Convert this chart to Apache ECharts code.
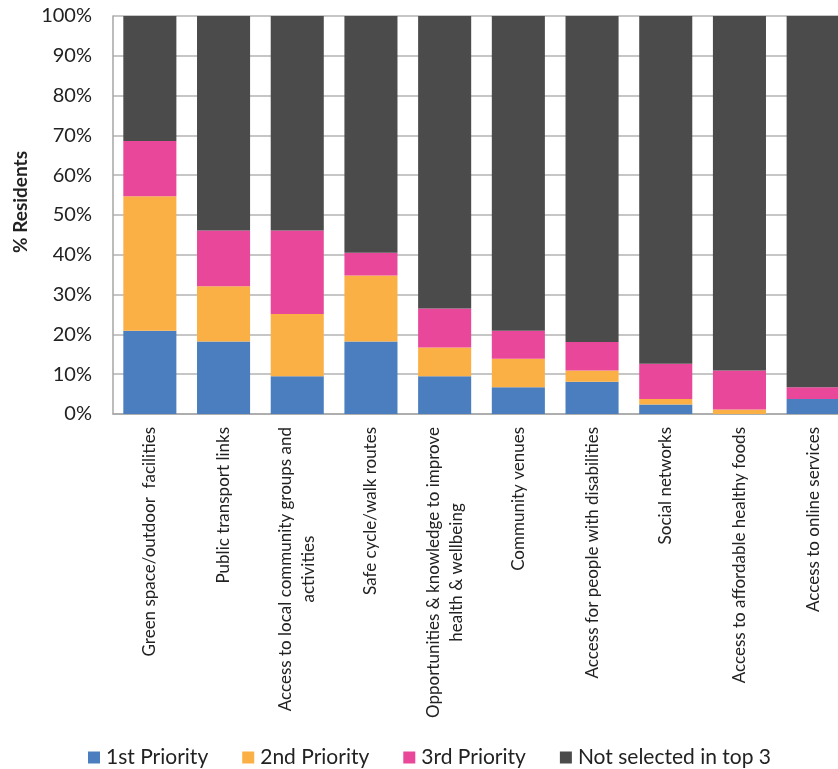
<!DOCTYPE html>
<html>
<head>
<meta charset="utf-8">
<script src="https://cdn.jsdelivr.net/npm/echarts@6/dist/echarts.min.js"></script>
<style>
  html, body { margin: 0; padding: 0; background: #fff; }
  #chart { width: 838px; height: 769px; }
</style>
</head>
<body>
<div id="chart"></div>
<script>
// Categories (long names wrap onto two lines)
const categories = [
  'Green space/outdoor  facilities',
  'Public transport links',
  'Access to local community groups and\nactivities',
  'Safe cycle/walk routes',
  'Opportunities & knowledge to improve\nhealth & wellbeing',
  'Community venues',
  'Access for people with disabilities',
  'Social networks',
  'Access to affordable healthy foods',
  'Access to online services'
];

// Share of residents (%) per priority
const firstPriority  = [20.9, 18.2,  9.5, 18.2,  9.5,  6.7,  8.1,  2.4,  0.0,  3.8];
const secondPriority = [33.8, 13.9, 15.6, 16.6,  7.2,  7.2,  2.8,  1.4,  1.1,  0.0];
const thirdPriority  = [13.9, 14.0, 21.0,  5.7,  9.8,  7.0,  7.2,  8.8,  9.8,  2.9];
const notSelected    = [31.4, 53.9, 53.9, 59.5, 73.5, 79.1, 81.9, 87.4, 89.1, 93.3];

const seriesNames = ['1st Priority', '2nd Priority', '3rd Priority', 'Not selected in top 3'];
const seriesColors = ['#4a7ebf', '#fbb046', '#e8479a', '#4b4b4b'];
const seriesData = [firstPriority, secondPriority, thirdPriority, notSelected];

const yTicks = [0, 10, 20, 30, 40, 50, 60, 70, 80, 90, 100];

const FONT = 'Lato, "Open Sans", sans-serif';

const chart = echarts.init(document.getElementById('chart'), null, { renderer: 'canvas' });

chart.setOption({
  animation: false,
  backgroundColor: '#ffffff',
  textStyle: { fontFamily: FONT },
  grid: { left: 113, top: 16, width: 737, height: 398, containLabel: false, outerBoundsMode: 'none' },
  legend: {
    data: seriesNames,
    left: 88,
    top: 747,
    padding: 0,
    icon: 'rect',
    itemWidth: 12,
    itemHeight: 12,
    itemGap: 34,
    textStyle: { fontFamily: FONT, fontSize: 21, color: '#222', padding: [0, 0, 0, 1] }
  },
  xAxis: {
    type: 'category',
    data: categories,
    axisLine: { lineStyle: { color: '#a6a6a6', width: 1.5 } },
    axisTick: { show: false },
    axisLabel: {
      interval: 0,
      rotate: 90,
      margin: 13,
      fontFamily: FONT,
      fontSize: 17,
      color: '#222',
      lineHeight: 23,
      formatter: function (v) {
        return v.split('\n').map(function (s) { return '{c|' + s + '}'; }).join('\n');
      },
      rich: {
        c: { align: 'center', fontFamily: FONT, fontSize: 17, color: '#222', lineHeight: 23 }
      }
    }
  },
  yAxis: {
    type: 'value',
    min: 0,
    max: 100,
    interval: 10,
    name: '% Residents',
    nameLocation: 'middle',
    nameGap: 81,
    nameTextStyle: { fontFamily: FONT, fontSize: 19, fontWeight: 'bold', color: '#222', padding: [0, 0, 0, 26] },
    axisLine: { show: true, lineStyle: { color: '#a6a6a6', width: 1.5 } },
    axisTick: { show: false },
    splitLine: { lineStyle: { color: '#b3b3b3', width: 1.5 } },
    axisLabel: {
      margin: 21,
      fontFamily: FONT,
      fontSize: 20,
      color: '#222',
      formatter: function (v) { return yTicks.indexOf(v) >= 0 ? v + '%' : ''; }
    }
  },
  series: seriesData.map(function (d, i) {
    return {
      name: seriesNames[i],
      type: 'bar',
      stack: 'total',
      data: d,
      barCategoryGap: '28%',
      itemStyle: { color: seriesColors[i] }
    };
  })
});
</script>
</body>
</html>
